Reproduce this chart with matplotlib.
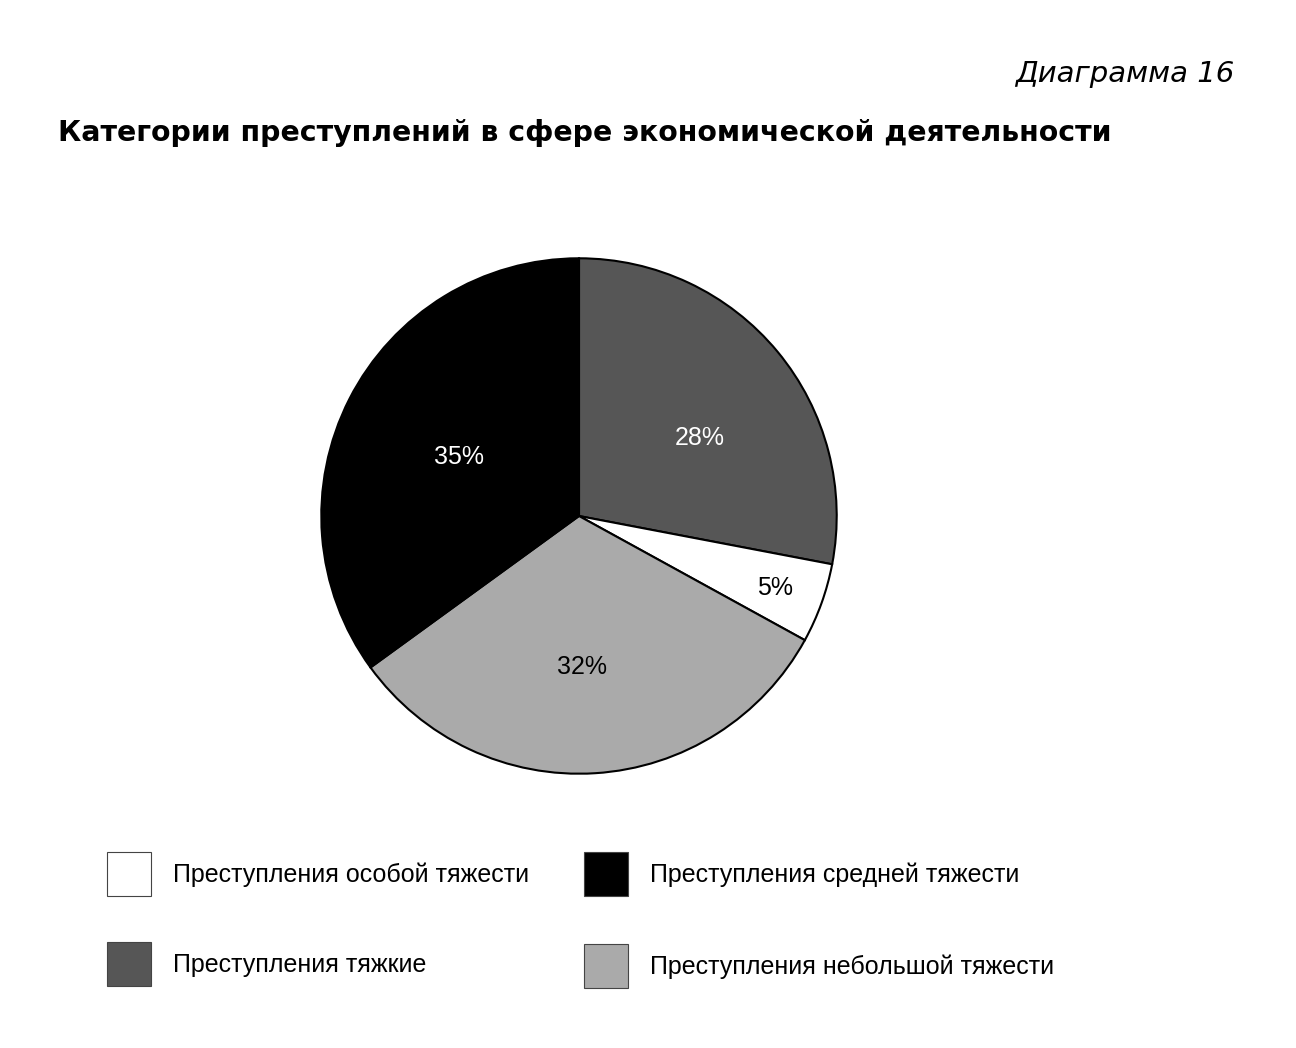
import matplotlib
matplotlib.use("Agg")
import matplotlib.pyplot as plt
from matplotlib.patches import Rectangle
import numpy as np

# ---- data ----
categories = ["Преступления тяжкие", "Преступления особой тяжести",
              "Преступления небольшой тяжести", "Преступления средней тяжести"]
values = [28, 5, 32, 35]
colors = ["#565656", "#ffffff", "#aaaaaa", "#000000"]
label_colors = ["white", "black", "black", "white"]
legend_order = [1, 0, 3, 2]   # column-wise: white, dark / black, light

title = "Категории преступлений в сфере экономической деятельности"
subtitle = "Диаграмма 16"

# ---- layout ----
W, H = 1296, 1048
plt.rcParams['font.family'] = ['Liberation Sans', 'DejaVu Sans']
fig = plt.figure(figsize=(W / 100, H / 100), dpi=100)
fig.patch.set_facecolor("white")

cx, cy, R = 579, 516, 259
ax = fig.add_axes([(cx - R) / W, (H - cy - R) / H, 2 * R / W, 2 * R / H])
wedges, _ = ax.pie(values, colors=colors, startangle=90, counterclock=False,
                   radius=1.0,
                   wedgeprops=dict(edgecolor="black", linewidth=1.5))
ax.set_xlim(-1.005, 1.005)
ax.set_ylim(-1.005, 1.005)
ax.set_aspect("equal")
ax.axis("off")

# label placement (radius fraction, angle shift in degrees)
label_r = [0.56, 0.81, 0.58, 0.52]
label_shift = [-6.5, 0, -2.5, 0.3]
for w, v, c, r, s in zip(wedges, values, label_colors, label_r, label_shift):
    ang = np.deg2rad((w.theta1 + w.theta2) / 2 + s)
    ax.text(r * np.cos(ang), r * np.sin(ang) - 0.005, f"{v}%", color=c,
            ha="center", va="center", fontsize=18)

fig.text(1234 / W, 1 - 74 / H, subtitle, ha="right", va="center",
         fontsize=21, style="italic", family=['DejaVu Sans'])
fig.text(58 / W, 1 - 133 / H, title, ha="left", va="center",
         fontsize=20.4, fontweight="bold", family=['DejaVu Sans'])

# legend
col_x = [107, 584]
row_y = [874, 964]
sq = 44
for k, idx in enumerate(legend_order):
    col, row = divmod(k, 2)
    x0 = col_x[col]
    yc = row_y[row] + (2 if (col == 1 and row == 1) else 0)
    fig.add_artist(Rectangle((x0 / W, (H - yc - sq / 2) / H), sq / W, sq / H,
                             transform=fig.transFigure, facecolor=colors[idx],
                             edgecolor="#444444", linewidth=0.8))
    fig.text((x0 + sq + 22) / W, 1 - (yc + 1) / H, categories[idx],
             ha="left", va="center", fontsize=18)

fig.savefig("out.png", dpi=100, facecolor="white")
